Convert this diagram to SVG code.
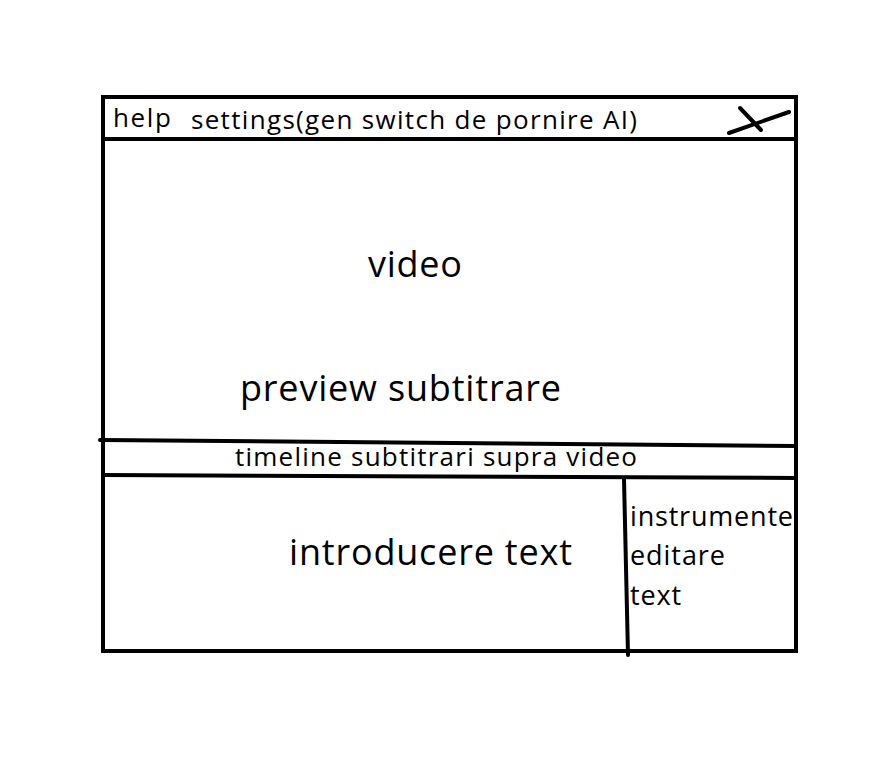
<svg xmlns="http://www.w3.org/2000/svg" width="873" height="758" viewBox="0 0 873 758">
<style>
.ln{stroke:#000;stroke-width:4;fill:none;stroke-linecap:round}
.t{font-family:"Open Sans","Liberation Sans",sans-serif;fill:#000}
.s{font-size:26px}
.m{font-size:27px}
.l{font-size:36px}
</style>
<rect width="873" height="758" fill="#fff"/>
<g id="frame">
<rect x="103" y="97" width="693" height="554" class="ln"/>
</g>
<g id="connectors">
<line x1="103" y1="139" x2="796" y2="139" class="ln"/>
<line x1="100" y1="440" x2="796" y2="446" class="ln"/>
<line x1="103" y1="475" x2="796" y2="478" class="ln"/>
<line x1="624" y1="479" x2="628" y2="655" class="ln"/>
</g>
<g id="topbar">
<text x="113" y="127" class="t s" textLength="58">help</text>
<text x="191" y="129" class="t s" textLength="446">settings(gen switch de pornire AI)</text>
<g id="close">
<line x1="740" y1="108" x2="761" y2="130" class="ln" stroke-width="5"/>
<line x1="729" y1="133" x2="789" y2="112" class="ln" stroke-width="5"/>
</g>
</g>
<g id="video">
<text x="368" y="277" class="t l" textLength="94">video</text>
<text x="240" y="401" class="t l" textLength="321">preview subtitrare</text>
</g>
<g id="timeline">
<text x="235" y="466" class="t s" textLength="402">timeline subtitrari supra video</text>
</g>
<g id="input">
<text x="289" y="565" class="t l" textLength="283">introducere text</text>
</g>
<g id="tools">
<text x="630" y="526" class="t m" textLength="163">instrumente</text>
<text x="630" y="565" class="t m" textLength="95">editare</text>
<text x="630" y="605" class="t m" textLength="51">text</text>
</g>
</svg>
